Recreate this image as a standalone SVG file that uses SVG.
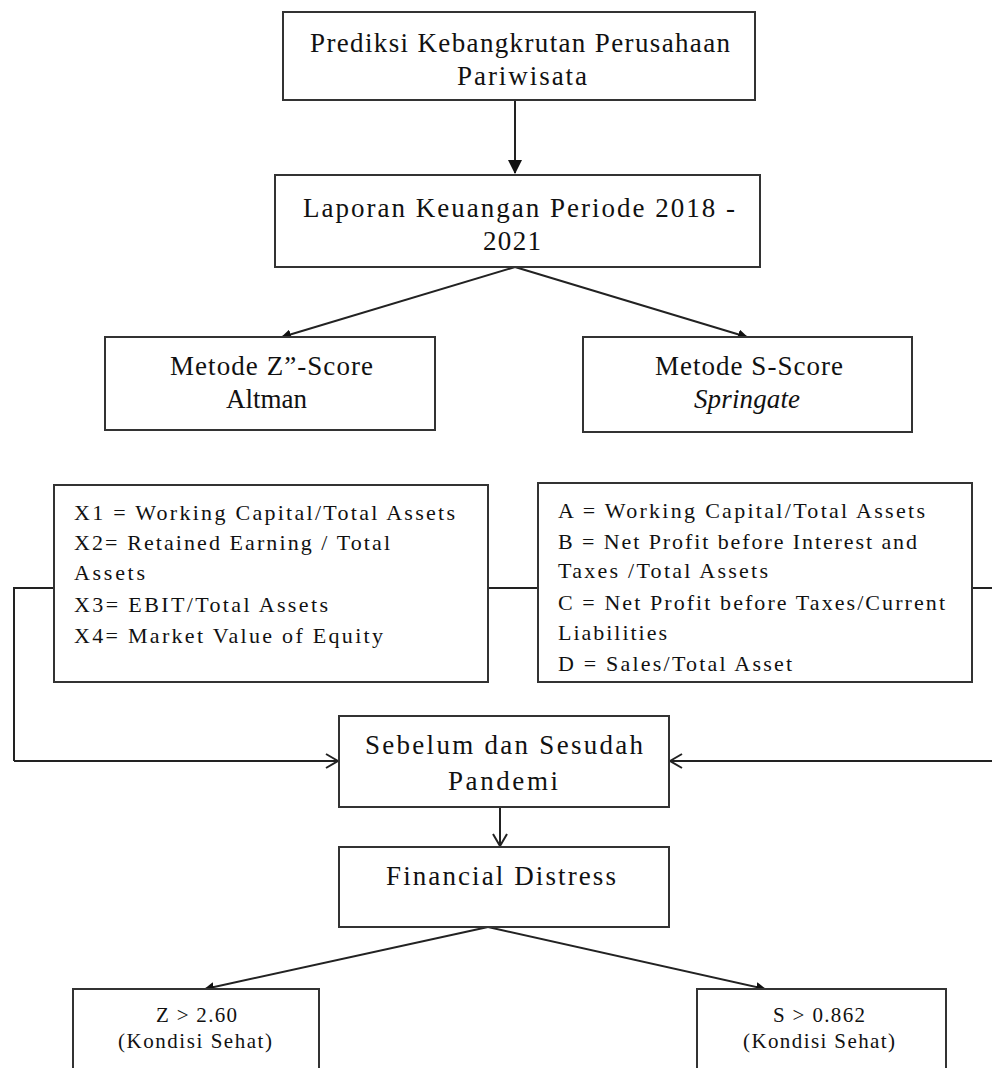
<svg xmlns="http://www.w3.org/2000/svg" width="992" height="1068" viewBox="0 0 992 1068">
<style>
.box{fill:#fff;stroke:#333;stroke-width:2}
text{font-family:'Liberation Serif','DejaVu Serif',serif;fill:#111}
.big{font-size:27px}
.mid{font-size:22px}
.sm{font-size:21px}
.ln{fill:none;stroke:#222;stroke-width:2}
</style>
<defs>
<marker id="fill" markerWidth="10" markerHeight="10" refX="9" refY="5" orient="auto" markerUnits="userSpaceOnUse" viewBox="0 0 10 10">
<path d="M0,0 L10,5 L0,10 z" fill="#111"/>
</marker>
<marker id="fillv" markerWidth="14" markerHeight="14" refX="13" refY="7" orient="auto" markerUnits="userSpaceOnUse" viewBox="0 0 14 14">
<path d="M0,0 L14,7 L0,14 z" fill="#111"/>
</marker>
<marker id="open" markerWidth="14" markerHeight="16" refX="13" refY="8" orient="auto" markerUnits="userSpaceOnUse" viewBox="0 0 14 16">
<path d="M1,1 L13,8 L1,15" fill="none" stroke="#222" stroke-width="2"/>
</marker>
</defs>
<rect width="992" height="1068" fill="#fff"/>
<g id="connectors">
<line class="ln" x1="515" y1="100" x2="515" y2="173" marker-end="url(#fillv)"/>
<line class="ln" x1="515" y1="267" x2="282" y2="337" marker-end="url(#fill)"/>
<line class="ln" x1="515" y1="267" x2="747" y2="337" marker-end="url(#fill)"/>
<polyline class="ln" points="14,761 14,588 54,588"/>
<line class="ln" x1="488" y1="588" x2="538" y2="588"/>
<line class="ln" x1="972" y1="588" x2="992" y2="588"/>
<line class="ln" x1="14" y1="761" x2="338" y2="761" marker-end="url(#open)"/>
<line class="ln" x1="992" y1="761" x2="670" y2="761" marker-end="url(#open)"/>
<line class="ln" x1="500" y1="807" x2="500" y2="846" marker-end="url(#open)"/>
<line class="ln" x1="488" y1="927" x2="205" y2="989" marker-end="url(#fill)"/>
<line class="ln" x1="488" y1="927" x2="765" y2="989" marker-end="url(#fill)"/>
</g>
<g id="n-prediksi">
<rect class="box" x="283" y="12" width="472" height="88"/>
<text class="big" x="310" y="52" textLength="420" lengthAdjust="spacing">Prediksi Kebangkrutan Perusahaan</text>
<text class="big" x="457" y="85" textLength="130" lengthAdjust="spacing">Pariwisata</text>
</g>
<g id="n-laporan">
<rect class="box" x="275" y="175" width="485" height="92"/>
<text class="big" x="303" y="217" textLength="432" lengthAdjust="spacing">Laporan Keuangan Periode 2018 -</text>
<text class="big" x="483" y="250" textLength="58" lengthAdjust="spacing">2021</text>
</g>
<g id="n-zscore">
<rect class="box" x="105" y="337" width="330" height="93"/>
<text class="big" x="170" y="375" textLength="203" lengthAdjust="spacing">Metode Z”-Score</text>
<text class="big" x="226" y="408">Altman</text>
</g>
<g id="n-sscore">
<rect class="box" x="583" y="337" width="329" height="95"/>
<text class="big" x="655" y="375" textLength="188" lengthAdjust="spacing">Metode S-Score</text>
<text class="big" x="694" y="408" font-style="italic" textLength="106" lengthAdjust="spacing">Springate</text>
</g>
<g id="n-xvars">
<rect class="box" x="54" y="485" width="434" height="197"/>
<text class="mid" x="74" y="520" textLength="381" lengthAdjust="spacing">X1 = Working Capital/Total Assets</text>
<text class="mid" x="74" y="550" textLength="316" lengthAdjust="spacing">X2= Retained Earning / Total</text>
<text class="mid" x="74" y="580" textLength="71" lengthAdjust="spacing">Assets</text>
<text class="mid" x="74" y="612" textLength="254" lengthAdjust="spacing">X3= EBIT/Total Assets</text>
<text class="mid" x="74" y="643" textLength="309" lengthAdjust="spacing">X4= Market Value of Equity</text>
</g>
<g id="n-svars">
<rect class="box" x="538" y="483" width="434" height="199"/>
<text class="mid" x="558" y="518" textLength="367" lengthAdjust="spacing">A = Working Capital/Total Assets</text>
<text class="mid" x="558" y="549" textLength="359" lengthAdjust="spacing">B = Net Profit before Interest and</text>
<text class="mid" x="558" y="578" textLength="210" lengthAdjust="spacing">Taxes /Total Assets</text>
<text class="mid" x="558" y="610" textLength="387" lengthAdjust="spacing">C = Net Profit before Taxes/Current</text>
<text class="mid" x="558" y="640" textLength="109" lengthAdjust="spacing">Liabilities</text>
<text class="mid" x="558" y="671" textLength="234" lengthAdjust="spacing">D = Sales/Total Asset</text>
</g>
<g id="n-pandemi">
<rect class="box" x="339" y="716" width="330" height="91"/>
<text class="big" x="365" y="754" textLength="278" lengthAdjust="spacing">Sebelum dan Sesudah</text>
<text class="big" x="448" y="790" textLength="110" lengthAdjust="spacing">Pandemi</text>
</g>
<g id="n-distress">
<rect class="box" x="339" y="847" width="330" height="80"/>
<text class="big" x="386" y="885" textLength="230" lengthAdjust="spacing">Financial Distress</text>
</g>
<g id="n-zsehat">
<rect class="box" x="73" y="989" width="246" height="90"/>
<text class="sm" x="156" y="1022" textLength="81" lengthAdjust="spacing">Z &gt; 2.60</text>
<text class="sm" x="118" y="1048" textLength="154" lengthAdjust="spacing">(Kondisi Sehat)</text>
</g>
<g id="n-ssehat">
<rect class="box" x="697" y="989" width="249" height="90"/>
<text class="sm" x="773" y="1022" textLength="92" lengthAdjust="spacing">S &gt; 0.862</text>
<text class="sm" x="743" y="1048" textLength="152" lengthAdjust="spacing">(Kondisi Sehat)</text>
</g>
</svg>
